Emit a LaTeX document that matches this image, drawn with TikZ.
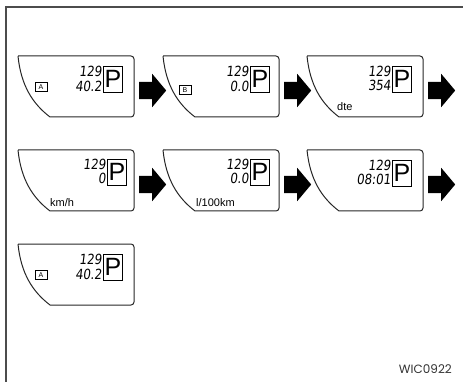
\documentclass[tikz,border=0pt]{standalone}
\usepackage{fontspec}
\usetikzlibrary{shapes.arrows}
\setmainfont{Liberation Sans}
\newfontfamily\lcdfont{DejaVu Sans}[FakeSlant=0.12, FakeStretch=0.85]
\newfontfamily\codefont{Poppins}
\tikzset{
    frameline/.style={line width=1.6pt, black!70},
    panelline/.style={line width=1pt, black!85},
    lcddigits/.style={font=\lcdfont\fontsize{14}{14}\selectfont, inner sep=0pt, anchor=east},
    gearbox/.style={draw, line width=0.8pt, minimum width=19pt, minimum height=26pt, inner sep=0pt, font=\fontsize{25}{25}\selectfont},
    modebox/.style={draw, line width=0.8pt, minimum width=12pt, minimum height=8.5pt, inner sep=0pt, font=\fontsize{7}{7}\selectfont},
    unitlabel/.style={anchor=west, inner sep=0pt, font=\fontsize{11}{11}\selectfont},
    steparrow/.style={single arrow, fill=black, inner xsep=0pt, inner ysep=8.5pt, minimum height=27pt, single arrow head extend=8pt, single arrow tip angle=100, anchor=tail},
    figcode/.style={anchor=east, inner sep=0pt, black!80, font=\codefont\fontsize{12}{12}\selectfont},
    lcdframe/.pic={
        \draw[panelline] (0,0) .. controls (3,30) and (15,48) .. (32,61) [rounded corners=3pt] -- (116,61) -- (116,0) -- (0,0);
    }
}
\begin{document}
\begin{tikzpicture}[x=1pt, y=-1pt]
            \useasboundingbox (0,0) rectangle (463,382);
            \draw[frameline] (463,7) -- (6,7) -- (6,382);

            % ---------- Row 1, left: A ----------
            \begin{scope}[shift={(18,56)}]
                \pic {lcdframe};
                \node[modebox] (mode1) at (23,31) {A};
                \node[lcddigits] (top1) at (84,15.5) {129};
                \node[lcddigits] (bot1) at (84,30) {40.2};
                \node[gearbox] (gear1) at (95,23) {P};
            \end{scope}

            % ---------- Row 1, middle: B ----------
            \begin{scope}[shift={(163,56)}]
                \pic {lcdframe};
                \node[modebox] (mode2) at (22,34) {B};
                \node[lcddigits] (top2) at (86,15.5) {129};
                \node[lcddigits] (bot2) at (86,30) {0.0};
                \node[gearbox] (gear2) at (97,23) {P};
            \end{scope}

            % ---------- Row 1, right: dte ----------
            \begin{scope}[shift={(307,56)}]
                \pic {lcdframe};
                \node[unitlabel] (unit3) at (30,51) {dte};
                \node[lcddigits] (top3) at (84,15) {129};
                \node[lcddigits] (bot3) at (84,29.5) {354};
                \node[gearbox] (gear3) at (95,23) {P};
            \end{scope}

            % ---------- Row 2, left: km/h ----------
            \begin{scope}[shift={(18,150)}]
                \pic {lcdframe};
                \node[unitlabel] (unit4) at (32,53) {km/h};
                \node[lcddigits] (top4) at (88,14) {129};
                \node[lcddigits] (bot4) at (88,28.5) {0};
                \node[gearbox] (gear4) at (99,22) {P};
            \end{scope}

            % ---------- Row 2, middle: l/100km ----------
            \begin{scope}[shift={(163,150)}]
                \pic {lcdframe};
                \node[unitlabel] (unit5) at (33,53) {l/100km};
                \node[lcddigits] (top5) at (86,14) {129};
                \node[lcddigits] (bot5) at (86,28.5) {0.0};
                \node[gearbox] (gear5) at (97,22) {P};
            \end{scope}

            % ---------- Row 2, right: clock ----------
            \begin{scope}[shift={(307,150)}]
                \pic {lcdframe};
                \node[lcddigits] (top6) at (84,15) {129};
                \node[lcddigits] (bot6) at (84,29.5) {08:01};
                \node[gearbox] (gear6) at (95,23) {P};
            \end{scope}

            % ---------- Row 3, left: back to A ----------
            \begin{scope}[shift={(18,244)}]
                \pic {lcdframe};
                \node[modebox] (mode7) at (23,31) {A};
                \node[lcddigits] (top7) at (84,15.5) {129};
                \node[lcddigits] (bot7) at (84,30) {40.2};
                \node[gearbox] (gear7) at (95,23) {P};
            \end{scope}

            % ---------- arrows ----------
            \node[steparrow] (arr1) at (139,90.5) {};
            \node[steparrow] (arr2) at (284,90.5) {};
            \node[steparrow] (arr3) at (428,90.5) {};
            \node[steparrow] (arr4) at (139,184.5) {};
            \node[steparrow] (arr5) at (284,184.5) {};
            \node[steparrow] (arr6) at (428,184.5) {};

            \node[figcode] (code) at (452,369) {WIC0922};
        \end{tikzpicture}
\end{document}
